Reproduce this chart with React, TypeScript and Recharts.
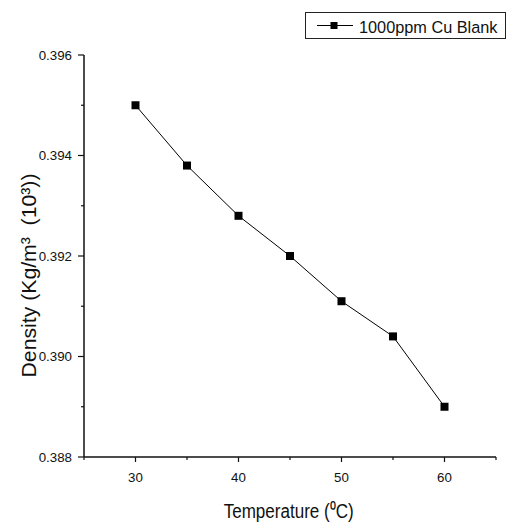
import React from 'react';
import { LineChart, Line, XAxis, YAxis, Legend, Label } from 'recharts';

const temperatures = [30, 35, 40, 45, 50, 55, 60];
const density = [0.395, 0.3938, 0.3928, 0.392, 0.3911, 0.3904, 0.389];
const seriesName = '1000ppm Cu Blank';

const xTicks = [25, 30, 35, 40, 45, 50, 55, 60, 65];
const xLabelled = [30, 40, 50, 60];
const yTicks = [0.388, 0.389, 0.39, 0.391, 0.392, 0.393, 0.394, 0.395, 0.396];
const yLabelled = ['0.388', '0.390', '0.392', '0.394', '0.396'];

const data = temperatures.map((t, i) => ({ temp: t, density: density[i] }));

const FONT = '"Liberation Sans", Arial, sans-serif';
const INK = '#111';

const XTick = (props: any) => {
  const { x, y, payload } = props;
  const major = xLabelled.includes(payload.value);
  return (
    <g>
      <line x1={x} y1={y} x2={x} y2={y + (major ? 5 : 3)} stroke={INK} strokeWidth={1.2} />
      {major && (
        <text x={x} y={y + 25} textAnchor="middle" fontSize={13.3} fontFamily={FONT} fill={INK}>
          {payload.value}
        </text>
      )}
    </g>
  );
};

const YTick = (props: any) => {
  const { x, y, payload } = props;
  const lbl = payload.value.toFixed(3);
  const major = yLabelled.includes(lbl);
  return (
    <g>
      <line x1={x} y1={y} x2={x - (major ? 6 : 3)} y2={y} stroke={INK} strokeWidth={1.2} />
      {major && (
        <text x={x - 12} y={y + 4.7} textAnchor="end" fontSize={13.3} fontFamily={FONT} fill={INK}>
          {lbl}
        </text>
      )}
    </g>
  );
};

const SquareDot = (props: any) => {
  const { cx, cy } = props;
  return <rect x={cx - 4} y={cy - 4} width={8} height={8} fill="#000" />;
};

const LegendBox = () => (
  <svg width={201} height={27} style={{ display: 'block' }}>
    <rect x={0.5} y={0.5} width={200} height={26} fill="#fff" stroke="#222" strokeWidth={1} />
    <line x1={12} y1={13.5} x2={48} y2={13.5} stroke="#000" strokeWidth={1} />
    <rect x={25.5} y={10} width={7} height={7} fill="#000" />
    <text x={54} y={20.5} fontSize={16.3} fontFamily={FONT} fill={INK}>
      {seriesName}
    </text>
  </svg>
);

const XTitle = () => (
  <text
    x={288.7}
    y={518}
    textAnchor="middle"
    fontSize={20}
    fontFamily={FONT}
    fill={INK}
    textLength={130}
    lengthAdjust="spacingAndGlyphs"
  >
    Temperature (⁰C)
  </text>
);

const YTitle = () => (
  <text
    x={0}
    y={0}
    transform="translate(36, 275.5) rotate(-90)"
    textAnchor="middle"
    fontSize={20}
    fontFamily={FONT}
    fill={INK}
    textLength={204}
    lengthAdjust="spacingAndGlyphs"
    style={{ whiteSpace: 'pre' }}
  >
    {'Density (Kg/m³  (10³))'}
  </text>
);

export default function App() {
  return (
    <div style={{ position: 'absolute', left: 0, top: 0, background: '#fff' }}>
      <LineChart width={508} height={522} data={data} margin={{ top: 55, right: 12, bottom: 5, left: 4 }}>
        <XAxis
          dataKey="temp"
          type="number"
          domain={[25, 65]}
          ticks={xTicks}
          interval={0}
          height={60}
          tickSize={0}
          tickMargin={0}
          tick={<XTick />}
          stroke={INK}
          strokeWidth={1.5}
        >
          <Label content={<XTitle />} />
        </XAxis>
        <YAxis
          type="number"
          domain={[0.388, 0.396]}
          ticks={yTicks}
          interval={0}
          width={80}
          tickSize={0}
          tickMargin={0}
          tick={<YTick />}
          stroke={INK}
          strokeWidth={1.5}
          allowDataOverflow
        >
          <Label content={<YTitle />} />
        </YAxis>
        <Legend
          layout="vertical"
          align="center"
          verticalAlign="middle"
          wrapperStyle={{ top: 12, left: 305, width: 201 }}
          content={<LegendBox />}
        />
        <Line
          type="linear"
          dataKey="density"
          name={seriesName}
          stroke="#000"
          strokeWidth={1}
          dot={<SquareDot />}
          activeDot={false}
          isAnimationActive={false}
        />
      </LineChart>
    </div>
  );
}
